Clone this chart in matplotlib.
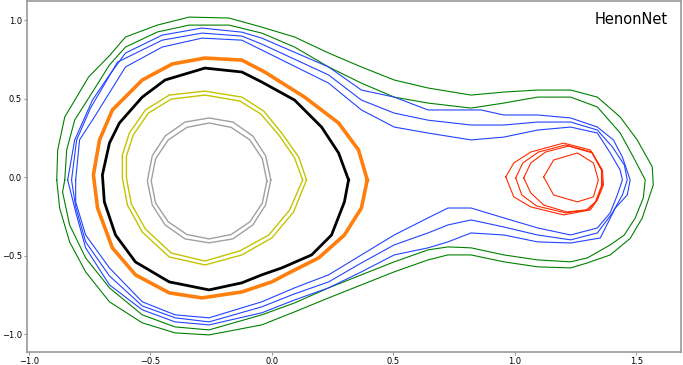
import matplotlib.pyplot as plt

# traced orbits (x, y)
gray_a = [(-0.004, -0.017), (-0.025, 0.136), (-0.078, 0.263), (-0.160, 0.352), (-0.258, 0.378),
          (-0.357, 0.352), (-0.439, 0.263), (-0.492, 0.136), (-0.512, -0.023), (-0.492, -0.176),
          (-0.439, -0.304), (-0.357, -0.393), (-0.258, -0.418), (-0.160, -0.393), (-0.078, -0.304),
          (-0.025, -0.176)]
gray_b = [(-0.020, -0.024), (-0.039, 0.118), (-0.090, 0.238), (-0.167, 0.318), (-0.258, 0.346),
          (-0.349, 0.318), (-0.426, 0.238), (-0.478, 0.118), (-0.496, -0.024), (-0.478, -0.165),
          (-0.426, -0.284), (-0.349, -0.365), (-0.258, -0.393), (-0.167, -0.365), (-0.090, -0.284),
          (-0.039, -0.165)]

yellow_a = [(0.143, -0.017), (0.111, 0.129), (0.041, 0.282), (-0.033, 0.422), (-0.123, 0.511),
            (-0.275, 0.549), (-0.422, 0.524), (-0.520, 0.429), (-0.586, 0.282), (-0.615, 0.142),
            (-0.615, -0.004), (-0.594, -0.177), (-0.533, -0.349), (-0.422, -0.508), (-0.275, -0.559),
            (-0.123, -0.495), (0.000, -0.387), (0.090, -0.221)]
yellow_b = [(0.127, -0.017), (0.094, 0.123), (0.029, 0.269), (-0.045, 0.403), (-0.131, 0.486),
            (-0.275, 0.524), (-0.414, 0.498), (-0.508, 0.409), (-0.570, 0.269), (-0.598, 0.136),
            (-0.598, -0.004), (-0.578, -0.170), (-0.520, -0.330), (-0.414, -0.483), (-0.275, -0.534),
            (-0.131, -0.469), (-0.012, -0.368), (0.074, -0.208)]

black = [(0.316, -0.017), (0.275, 0.155), (0.205, 0.320), (0.094, 0.492), (-0.041, 0.607),
         (-0.123, 0.671), (-0.275, 0.696), (-0.439, 0.620), (-0.533, 0.511), (-0.627, 0.346),
         (-0.668, 0.218), (-0.697, 0.015), (-0.689, -0.157), (-0.643, -0.368), (-0.561, -0.540),
         (-0.422, -0.667), (-0.258, -0.718), (-0.123, -0.673), (-0.041, -0.622), (0.041, -0.578),
         (0.164, -0.495), (0.246, -0.368), (0.299, -0.157)]

orange = [(0.393, -0.017), (0.357, 0.174), (0.275, 0.346), (0.135, 0.511), (-0.029, 0.671),
          (-0.123, 0.747), (-0.275, 0.760), (-0.410, 0.722), (-0.533, 0.620), (-0.656, 0.429),
          (-0.709, 0.237), (-0.734, 0.015), (-0.717, -0.196), (-0.656, -0.450), (-0.561, -0.622),
          (-0.422, -0.737), (-0.287, -0.769), (-0.123, -0.731), (0.000, -0.667), (0.070, -0.610),
          (0.193, -0.514), (0.299, -0.368), (0.369, -0.196)]

blue_out = [(-0.840, -0.017), (-0.811, 0.238), (-0.738, 0.492), (-0.668, 0.652), (-0.602, 0.792),
            (-0.451, 0.906), (-0.287, 0.951), (-0.123, 0.925), (-0.041, 0.887), (0.234, 0.703),
            (0.369, 0.556), (0.504, 0.511), (0.643, 0.429), (0.861, 0.429), (0.955, 0.397),
            (1.094, 0.397), (1.230, 0.378), (1.340, 0.320), (1.406, 0.238), (1.443, 0.129),
            (1.475, -0.017), (1.463, -0.113), (1.414, -0.196), (1.352, -0.387), (1.230, -0.419),
            (1.094, -0.412), (0.955, -0.368), (0.820, -0.355), (0.725, -0.412), (0.643, -0.450),
            (0.504, -0.495), (0.369, -0.603), (0.234, -0.705), (0.094, -0.782), (-0.041, -0.864),
            (-0.258, -0.941), (-0.398, -0.922), (-0.533, -0.845), (-0.668, -0.686), (-0.766, -0.450),
            (-0.807, -0.221)]
blue_mid = [(-0.824, -0.017), (-0.803, 0.238), (-0.746, 0.441), (-0.635, 0.734), (-0.451, 0.874),
            (-0.287, 0.919), (-0.123, 0.900), (-0.041, 0.849), (0.234, 0.652), (0.369, 0.492),
            (0.504, 0.409), (0.643, 0.364), (0.820, 0.333), (0.955, 0.333), (1.094, 0.352),
            (1.230, 0.352), (1.340, 0.301), (1.402, 0.193), (1.451, 0.078), (1.463, -0.017),
            (1.443, -0.113), (1.402, -0.227), (1.340, -0.355), (1.230, -0.399), (1.094, -0.368),
            (0.955, -0.317), (0.820, -0.272), (0.725, -0.304), (0.643, -0.355), (0.504, -0.431),
            (0.369, -0.546), (0.234, -0.667), (0.094, -0.743), (-0.041, -0.826), (-0.258, -0.922),
            (-0.398, -0.896), (-0.533, -0.820), (-0.668, -0.629), (-0.766, -0.412), (-0.807, -0.189)]
blue_in = [(-0.807, -0.017), (-0.791, 0.238), (-0.730, 0.384), (-0.602, 0.703), (-0.451, 0.830),
           (-0.287, 0.887), (-0.123, 0.874), (-0.041, 0.811), (0.234, 0.600), (0.369, 0.429),
           (0.504, 0.320), (0.643, 0.282), (0.820, 0.238), (0.955, 0.256), (1.094, 0.301),
           (1.230, 0.320), (1.340, 0.282), (1.393, 0.155), (1.434, 0.046), (1.443, -0.017),
           (1.422, -0.113), (1.393, -0.227), (1.340, -0.323), (1.230, -0.368), (1.094, -0.323),
           (0.955, -0.259), (0.820, -0.196), (0.725, -0.196), (0.643, -0.259), (0.504, -0.368),
           (0.369, -0.495), (0.234, -0.622), (0.094, -0.705), (-0.041, -0.794), (-0.258, -0.896),
           (-0.398, -0.877), (-0.533, -0.794), (-0.668, -0.578), (-0.766, -0.368), (-0.807, -0.157)]

green_out = [(-0.885, -0.017), (-0.881, 0.174), (-0.852, 0.384), (-0.754, 0.639), (-0.668, 0.775),
             (-0.602, 0.894), (-0.471, 0.970), (-0.340, 1.021), (-0.176, 1.015), (-0.041, 0.957),
             (0.094, 0.894), (0.234, 0.792), (0.369, 0.703), (0.504, 0.620), (0.643, 0.569),
             (0.820, 0.524), (0.955, 0.543), (1.094, 0.556), (1.230, 0.556), (1.340, 0.511),
             (1.434, 0.384), (1.504, 0.238), (1.566, 0.066), (1.570, -0.049), (1.525, -0.259),
             (1.475, -0.390), (1.393, -0.495), (1.299, -0.546), (1.230, -0.578), (1.094, -0.571),
             (0.955, -0.539), (0.820, -0.495), (0.725, -0.495), (0.643, -0.527), (0.504, -0.603),
             (0.369, -0.686), (0.234, -0.769), (0.094, -0.858), (-0.041, -0.941), (-0.258, -1.005),
             (-0.398, -0.992), (-0.533, -0.928), (-0.668, -0.794), (-0.766, -0.603), (-0.832, -0.412),
             (-0.873, -0.196)]
green_in = [(-0.852, -0.017), (-0.844, 0.174), (-0.811, 0.365), (-0.725, 0.575), (-0.668, 0.716),
            (-0.602, 0.830), (-0.471, 0.926), (-0.340, 0.970), (-0.176, 0.970), (-0.041, 0.919),
            (0.094, 0.830), (0.234, 0.703), (0.369, 0.600), (0.504, 0.511), (0.643, 0.473),
            (0.820, 0.441), (0.955, 0.473), (1.094, 0.511), (1.230, 0.511), (1.340, 0.448),
            (1.434, 0.282), (1.488, 0.129), (1.537, -0.017), (1.529, -0.132), (1.496, -0.259),
            (1.451, -0.368), (1.393, -0.431), (1.299, -0.514), (1.230, -0.539), (1.094, -0.527),
            (0.955, -0.495), (0.820, -0.450), (0.725, -0.444), (0.643, -0.463), (0.504, -0.539),
            (0.369, -0.622), (0.234, -0.705), (0.094, -0.801), (-0.041, -0.877), (-0.258, -0.973),
            (-0.398, -0.954), (-0.533, -0.877), (-0.668, -0.705), (-0.766, -0.514), (-0.832, -0.304),
            (-0.861, -0.094)]

red_1 = [(0.963, 0.002), (0.996, 0.091), (1.066, 0.161), (1.201, 0.218), (1.311, 0.174),
         (1.361, 0.046), (1.365, -0.049), (1.340, -0.145), (1.311, -0.208), (1.201, -0.240),
         (1.066, -0.189), (0.996, -0.125)]
red_2 = [(1.004, -0.004), (1.033, 0.091), (1.098, 0.161), (1.209, 0.206), (1.316, 0.161),
         (1.357, 0.046), (1.361, -0.049), (1.336, -0.151), (1.303, -0.208), (1.209, -0.227),
         (1.090, -0.183), (1.029, -0.113)]
red_3 = [(1.037, -0.004), (1.066, 0.091), (1.127, 0.161), (1.221, 0.199), (1.320, 0.155),
         (1.357, 0.046), (1.357, -0.055), (1.332, -0.157), (1.295, -0.208), (1.213, -0.221),
         (1.119, -0.177), (1.066, -0.100)]
red_4 = [(1.119, 0.002), (1.160, 0.110), (1.258, 0.155), (1.324, 0.091), (1.344, -0.017),
         (1.324, -0.125), (1.258, -0.157), (1.160, -0.113)]


def loop(ax, pts, color, lw=0.8):
    xs = [p[0] for p in pts] + [pts[0][0]]
    ys = [p[1] for p in pts] + [pts[0][1]]
    ax.plot(xs, ys, color=color, lw=lw, solid_joinstyle='round')


fig, ax = plt.subplots(figsize=(6.83, 3.65), dpi=100)
fig.subplots_adjust(left=0.04, right=0.997, top=0.997, bottom=0.036)

for s in (green_out, green_in):
    loop(ax, s, 'g')
for s in (blue_out, blue_mid, blue_in):
    loop(ax, s, '#2244ff')
loop(ax, orange, '#ff7f0e', lw=2.6)
loop(ax, black, 'k', lw=2.0)
for s in (yellow_a, yellow_b):
    loop(ax, s, '#c4c400', lw=1.0)
for s in (gray_a, gray_b):
    loop(ax, s, '#a0a0a0', lw=1.0)
for s in (red_1, red_2, red_3, red_4):
    loop(ax, s, '#ff2a00')

ax.set_xlim(-1.006, 1.684)
ax.set_ylim(-1.113, 1.123)
ax.set_xticks([-1.0, -0.5, 0.0, 0.5, 1.0, 1.5])
ax.set_yticks([-1.0, -0.5, 0.0, 0.5, 1.0])
ax.tick_params(labelsize=6, length=2.5, pad=1.5, color='#999999')
for sp in ax.spines.values():
    sp.set_color('#999999')
    sp.set_linewidth(1.2)
ax.text(0.98, 0.97, 'HenonNet', transform=ax.transAxes, ha='right', va='top', fontsize=10.5)

plt.savefig('out.png')
